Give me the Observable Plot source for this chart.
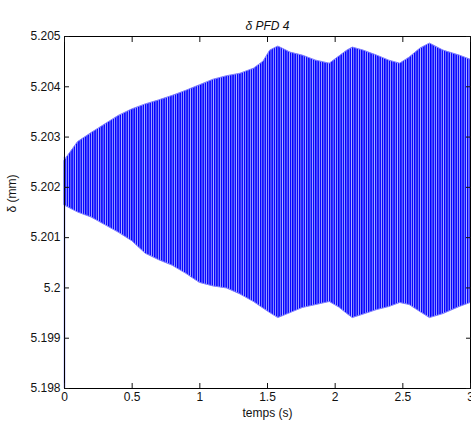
<!DOCTYPE html>
<html>
<head>
<meta charset="utf-8">
<script src="https://cdn.jsdelivr.net/npm/d3@7"></script>
<script src="https://cdn.jsdelivr.net/npm/@observablehq/plot@0.6"></script>
<style>
  html, body { margin: 0; padding: 0; background: #fff; }
</style>
</head>
<body>
<div id="chart"></div>
<script>
// time samples (s) at which the envelope was read
const times = [0, 0.1, 0.2, 0.3, 0.4, 0.5, 0.6, 0.7, 0.8, 0.9, 1.0, 1.1, 1.2, 1.3, 1.4,
  1.47, 1.52, 1.58, 1.67, 1.76, 1.86, 1.96, 2.03, 2.09, 2.13, 2.21, 2.31, 2.4, 2.48,
  2.55, 2.63, 2.7, 2.8, 2.92, 3.0];
// upper envelope of the oscillation (mm)
const upper = [5.20253, 5.2029, 5.20308, 5.20325, 5.20342, 5.20355, 5.20365, 5.20373, 5.20382,
  5.20392, 5.20403, 5.20414, 5.20421, 5.20426, 5.20436,
  5.2045, 5.20472, 5.2048, 5.20468, 5.20462, 5.20452, 5.20446, 5.2046, 5.20472, 5.20478,
  5.20472, 5.20462, 5.20452, 5.20446, 5.20458, 5.20476, 5.20486, 5.20472, 5.20462, 5.20454];
// lower envelope of the oscillation (mm)
const lower = [5.20164, 5.2015, 5.2014, 5.20125, 5.2011, 5.20093, 5.20068, 5.20055, 5.20044,
  5.20028, 5.2001, 5.20003, 5.19999, 5.19987, 5.19972,
  5.19959, 5.1995, 5.1994, 5.1995, 5.1996, 5.19966, 5.19972, 5.19961, 5.19948, 5.1994,
  5.19947, 5.19956, 5.19962, 5.1997, 5.19966, 5.19952, 5.1994, 5.19948, 5.19962, 5.1997];
// initial transient at t = 0 (from start value up to first crest)
const startTime = [0];
const startValue = [5.198];
const startTop = [5.2026];

const xTicks = [0, 0.5, 1, 1.5, 2, 2.5, 3];
const xTickLabels = ["0", "0.5", "1", "1.5", "2", "2.5", "3"];
const yTicks = [5.198, 5.199, 5.2, 5.201, 5.202, 5.203, 5.204, 5.205];
const yTickLabels = ["5.198", "5.199", "5.2", "5.201", "5.202", "5.203", "5.204", "5.205"];

const titleText = "δ PFD 4";
const xLabel = "temps (s)";
const yLabel = "δ (mm)";

const env = times.map((t, i) => ({t, hi: upper[i], lo: lower[i]}));
const start = startTime.map((t, i) => ({t, y1: startValue[i], y2: startTop[i]}));

const chart = Plot.plot({
  width: 471,
  height: 428,
  marginLeft: 64,
  marginRight: 1,
  marginTop: 36,
  marginBottom: 40,
  style: {fontFamily: "'Liberation Sans', Arial, sans-serif", fontSize: "12px", color: "#111", background: "#fff"},
  x: {domain: [0, 3]},
  y: {domain: [5.198, 5.205]},
  marks: [
    Plot.areaY(env, {x: "t", y1: "lo", y2: "hi", curve: "linear", fill: "url(#stripes)",
      stroke: "#8080ff", strokeWidth: 1}),
    Plot.ruleX(start, {x: "t", y1: "y1", y2: "y2", stroke: "#7f7fff", strokeWidth: 1.5}),
    Plot.frame({stroke: "#000"}),
    Plot.axisX({anchor: "bottom", ticks: xTicks, tickSize: -5, tickPadding: 9,
      tickFormat: (d) => xTickLabels[xTicks.indexOf(d)], label: null}),
    Plot.axisX({anchor: "top", ticks: xTicks, tickSize: -5, tickFormat: () => "", label: null}),
    Plot.axisY({anchor: "left", ticks: yTicks, tickSize: -5, tickPadding: 9,
      tickFormat: (d) => yTickLabels[yTicks.indexOf(d)], label: null}),
    Plot.axisY({anchor: "right", ticks: yTicks, tickSize: -5, tickFormat: () => "", label: null}),
    Plot.text([titleText], {frameAnchor: "top", dy: -15, fontStyle: "italic", fontSize: 12}),
    Plot.text([xLabel], {frameAnchor: "bottom", dy: 28, fontSize: 12}),
    Plot.text([yLabel], {frameAnchor: "left", dx: -52, rotate: -90, fontSize: 12})
  ]
});

// stripe pattern imitating the dense sampled oscillation
const ns = "http://www.w3.org/2000/svg";
const defs = document.createElementNS(ns, "defs");
const pat = document.createElementNS(ns, "pattern");
pat.setAttribute("id", "stripes");
pat.setAttribute("patternUnits", "userSpaceOnUse");
pat.setAttribute("width", "2.3");
pat.setAttribute("height", "10");
[["0", "1.5", "#0000ff"], ["1.5", "0.6", "#6f6fff"], ["2.1", "0.2", "#ffffff"]].forEach(([x, w, c]) => {
  const r = document.createElementNS(ns, "rect");
  r.setAttribute("x", x); r.setAttribute("y", "0");
  r.setAttribute("width", w); r.setAttribute("height", "10");
  r.setAttribute("fill", c);
  pat.appendChild(r);
});
defs.appendChild(pat);
chart.insertBefore(defs, chart.firstChild);

document.getElementById("chart").appendChild(chart);
</script>
</body>
</html>
